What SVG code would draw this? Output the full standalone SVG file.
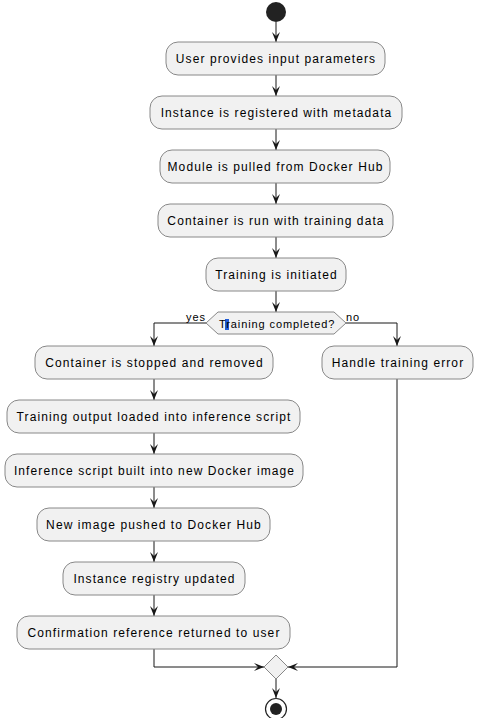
<svg xmlns="http://www.w3.org/2000/svg" width="484" height="718" viewBox="0 0 484 718">
<defs>
<marker id="arr" viewBox="0 0 10 8" refX="10" refY="4" markerWidth="10" markerHeight="8" markerUnits="userSpaceOnUse" orient="auto">
<path d="M0,0 L10,4 L0,8 L4,4 Z" fill="#181818"/>
</marker>
<style>
.box{fill:#F1F1F1;stroke:#888888;stroke-width:1}
.t{font-family:"Liberation Sans",Arial,sans-serif;font-size:12px;letter-spacing:1.1px;fill:#000;text-anchor:middle}
.s{font-family:"Liberation Sans",Arial,sans-serif;font-size:11px;letter-spacing:0.9px;fill:#000}
.c{fill:none;stroke:#181818;stroke-width:1}
</style>
</defs>
<rect width="484" height="718" fill="#FFFFFF"/>
<g id="connectors">
<path class="c" d="M276,22 V42" marker-end="url(#arr)"/>
<path class="c" d="M276,75 V96" marker-end="url(#arr)"/>
<path class="c" d="M276,129 V150" marker-end="url(#arr)"/>
<path class="c" d="M276,183 V204" marker-end="url(#arr)"/>
<path class="c" d="M276,237 V258" marker-end="url(#arr)"/>
<path class="c" d="M276,291 V312" marker-end="url(#arr)"/>
<path class="c" d="M206,323 H154 V346" marker-end="url(#arr)"/>
<path class="c" d="M346,323 H397 V346" marker-end="url(#arr)"/>
<path class="c" d="M154,379 V400" marker-end="url(#arr)"/>
<path class="c" d="M154,433 V454" marker-end="url(#arr)"/>
<path class="c" d="M154,487 V508" marker-end="url(#arr)"/>
<path class="c" d="M154,541 V562" marker-end="url(#arr)"/>
<path class="c" d="M154,595 V616" marker-end="url(#arr)"/>
<path class="c" d="M154,649 V667 H264" marker-end="url(#arr)"/>
<path class="c" d="M397,379 V667 H288" marker-end="url(#arr)"/>
<path class="c" d="M276,679 V698" marker-end="url(#arr)"/>
<text class="s" x="186" y="321">yes</text>
<text class="s" x="346" y="321">no</text>
</g>
<g id="start"><circle cx="276" cy="12" r="10" fill="#222222"/></g>
<g id="n1"><rect class="box" x="166" y="42" width="219" height="33" rx="12"/><text class="t" x="276" y="63">User provides input parameters</text></g>
<g id="n2"><rect class="box" x="150" y="96" width="252" height="33" rx="12"/><text class="t" x="276.5" y="117">Instance is registered with metadata</text></g>
<g id="n3"><rect class="box" x="160" y="150" width="230" height="33" rx="12"/><text class="t" x="275.5" y="171">Module is pulled from Docker Hub</text></g>
<g id="n4"><rect class="box" x="158" y="204" width="235" height="33" rx="12"/><text class="t" x="276" y="225">Container is run with training data</text></g>
<g id="n5"><rect class="box" x="206" y="258" width="140" height="33" rx="12"/><text class="t" x="276.5" y="279">Training is initiated</text></g>
<g id="decision">
<polygon class="box" points="206,323 218,312 334,312 346,323 334,334 218,334"/>
<rect x="225" y="319" width="4" height="11" fill="#1E5BD6"/>
<text class="s" x="219" y="327.5">Training completed?</text>
</g>
<g id="n6"><rect class="box" x="35" y="346" width="238" height="33" rx="12"/><text class="t" x="154.5" y="367">Container is stopped and removed</text></g>
<g id="n7"><rect class="box" x="7" y="400" width="293" height="33" rx="12"/><text class="t" x="154" y="421">Training output loaded into inference script</text></g>
<g id="n8"><rect class="box" x="5" y="454" width="298" height="33" rx="12"/><text class="t" x="154.5" y="475">Inference script built into new Docker image</text></g>
<g id="n9"><rect class="box" x="37" y="508" width="233" height="33" rx="12"/><text class="t" x="154" y="529">New image pushed to Docker Hub</text></g>
<g id="n10"><rect class="box" x="63" y="562" width="182" height="33" rx="12"/><text class="t" x="154.5" y="583">Instance registry updated</text></g>
<g id="n11"><rect class="box" x="17" y="616" width="273" height="33" rx="12"/><text class="t" x="154" y="637">Confirmation reference returned to user</text></g>
<g id="err"><rect class="box" x="322" y="346" width="151" height="33" rx="12"/><text class="t" x="398" y="367">Handle training error</text></g>
<g id="merge"><polygon class="box" points="264,667 276,655 288,667 276,679"/></g>
<g id="end"><circle cx="276" cy="709" r="10.5" fill="none" stroke="#222222" stroke-width="1.2"/><circle cx="276" cy="709" r="6" fill="#222222"/></g>
</svg>
